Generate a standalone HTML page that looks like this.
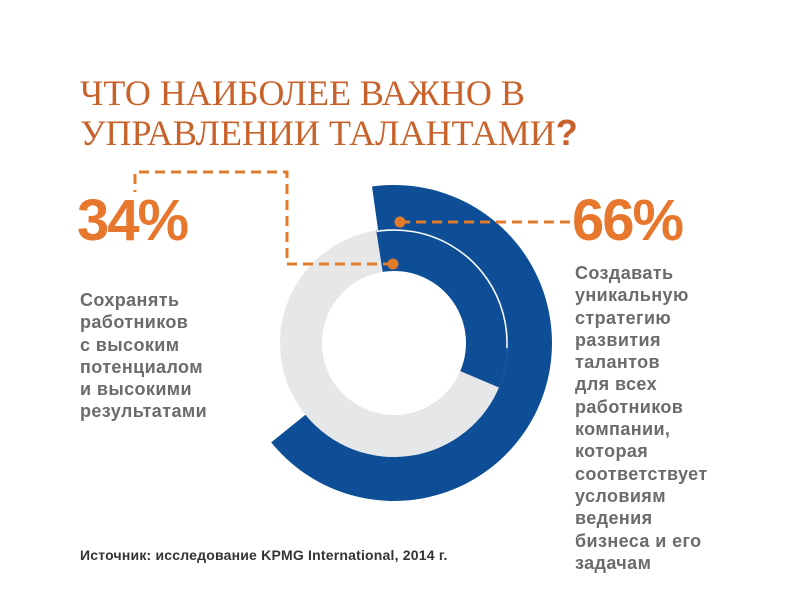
<!DOCTYPE html>
<html><head><meta charset="utf-8"><style>
body{margin:0;width:800px;height:600px;background:#fff;position:relative;overflow:hidden;font-family:"Liberation Sans",sans-serif}
.t{position:absolute;left:80px;top:73px;font-family:"Liberation Serif",serif;font-size:36px;line-height:40px;color:#c8612a;letter-spacing:0px}
.t b{font-family:"Liberation Sans",sans-serif;font-weight:bold}
.big{position:absolute;font-weight:bold;font-size:58px;color:#e8772e;letter-spacing:-2px;line-height:58px}
.lab{position:absolute;font-weight:bold;font-size:18px;line-height:22.3px;color:#6b6b6b;letter-spacing:0.4px}
.src{position:absolute;left:80px;top:547px;font-weight:bold;font-size:14px;color:#333;letter-spacing:0.2px}
</style></head><body>
<div class="t">ЧТО НАИБОЛЕЕ ВАЖНО В<br>УПРАВЛЕНИИ ТАЛАНТАМИ<b>?</b></div>
<svg width="800" height="600" style="position:absolute;left:0;top:0">
<circle cx="394" cy="343" r="93" fill="none" stroke="#e6e7e9" stroke-width="42"/>
<path d="M372.0,186.5 A158 158 0 1 1 271.2,442.4 L305.4,414.7 A114 114 0 1 0 378.1,230.1 Z" fill="#0e4e97"/>
<path d="M376.2,230.4 A114 114 0 0 1 499.0,387.5 L460.3,371.1 A72 72 0 0 0 382.7,271.9 Z" fill="#0e4e97"/>
<circle cx="394" cy="343" r="113" fill="none" stroke="#fff" stroke-width="1.5" stroke-dasharray="0 22 200 1000" transform="rotate(-110 394 343)"/>
<g stroke="#e07b2c" stroke-width="3" stroke-dasharray="10 6" fill="none">
<path d="M400 222 H572"/>
<path d="M393 264 H287 V172 H135 V192"/>
</g>
<circle cx="400" cy="222" r="5.5" fill="#e07b2c"/>
<circle cx="393" cy="264" r="5.5" fill="#e07b2c"/>
</svg>
<div class="big" style="left:77px;top:192px">34%</div>
<div class="big" style="left:572px;top:192px">66%</div>
<div class="lab" style="left:80px;top:289px">Сохранять<br>работников<br>с высоким<br>потенциалом<br>и высокими<br>результатами</div>
<div class="lab" style="left:575px;top:262px">Создавать<br>уникальную<br>стратегию<br>развития<br>талантов<br>для всех<br>работников<br>компании,<br>которая<br>соответствует<br>условиям<br>ведения<br>бизнеса и его<br>задачам</div>
<div class="src">Источник: исследование KPMG International, 2014 г.</div>
</body></html>
